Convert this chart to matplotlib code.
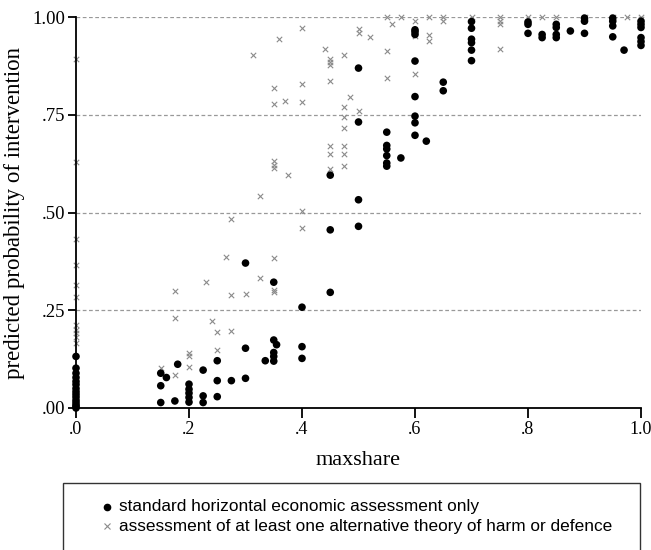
import numpy as np
import matplotlib
matplotlib.use("Agg")
import matplotlib.pyplot as plt
from matplotlib.lines import Line2D
from matplotlib.patches import Rectangle

# ---- data: standard horizontal economic assessment only (dots) ----
std_share = [0.0, 0.15, 0.16, 0.175, 0.18, 0.2, 0.225, 0.25, 0.275, 0.3, 0.335,
             0.35, 0.355, 0.4, 0.45, 0.5, 0.55, 0.575, 0.6, 0.62, 0.65, 0.7,
             0.8, 0.825, 0.85, 0.875, 0.9, 0.95, 0.97, 1.0]
std_prob = [
    [0.132, 0.102, 0.089, 0.078, 0.068, 0.06, 0.05, 0.042, 0.035, 0.028, 0.02, 0.014, 0.008, 0.004, 0.0],
    [0.089, 0.057, 0.014],
    [0.078],
    [0.018],
    [0.112],
    [0.061, 0.048, 0.038, 0.027, 0.015],
    [0.097, 0.031, 0.014],
    [0.121, 0.07, 0.029],
    [0.07],
    [0.371, 0.153, 0.076],
    [0.121],
    [0.322, 0.174, 0.142, 0.132, 0.12],
    [0.162],
    [0.258, 0.157, 0.127],
    [0.596, 0.456, 0.296],
    [0.87, 0.732, 0.533, 0.465],
    [0.706, 0.672, 0.663, 0.646, 0.627, 0.619],
    [0.64],
    [0.968, 0.963, 0.956, 0.888, 0.797, 0.747, 0.73, 0.698],
    [0.683],
    [0.834, 0.812],
    [0.989, 0.972, 0.944, 0.935, 0.916, 0.889],
    [0.988, 0.982, 0.959],
    [0.956, 0.948],
    [0.982, 0.974, 0.956, 0.948],
    [0.965],
    [0.998, 0.99, 0.959],
    [0.998, 0.99, 0.978, 0.95],
    [0.916],
    [0.99, 0.982, 0.974, 0.948, 0.938, 0.928],
]

# ---- data: at least one alternative theory of harm or defence (crosses) ----
alt_share = [0.0, 0.15, 0.175, 0.2, 0.23, 0.24, 0.25, 0.265, 0.275, 0.3, 0.3125,
             0.325, 0.35, 0.36, 0.37, 0.375, 0.4, 0.44, 0.45, 0.475, 0.485, 0.5,
             0.52, 0.55, 0.56, 0.575, 0.6, 0.625, 0.65, 0.7, 0.75, 0.8, 0.825,
             0.85, 0.9, 0.95, 0.975, 1.0]
alt_prob = [
    [0.894, 0.629, 0.433, 0.367, 0.314, 0.284, 0.213, 0.2, 0.191, 0.183, 0.166],
    [0.102],
    [0.3, 0.23, 0.085],
    [0.142, 0.133, 0.106],
    [0.322],
    [0.222],
    [0.194, 0.149],
    [0.386],
    [0.485, 0.288, 0.197],
    [0.292],
    [0.903],
    [0.542, 0.333],
    [0.82, 0.778, 0.632, 0.623, 0.615, 0.384, 0.303, 0.296],
    [0.945],
    [0.786],
    [0.597],
    [0.972, 0.829, 0.782, 0.505, 0.461],
    [0.918],
    [0.894, 0.886, 0.877, 0.838, 0.67, 0.649, 0.613],
    [0.903, 0.77, 0.745, 0.716, 0.67, 0.65, 0.619],
    [0.797],
    [0.969, 0.961, 0.759],
    [0.949],
    [1.0, 0.914, 0.845],
    [0.982],
    [1.0],
    [0.99, 0.952, 0.854],
    [1.0, 0.955, 0.939],
    [1.0, 0.99],
    [1.0],
    [1.0, 0.99, 0.982, 0.92],
    [1.0],
    [1.0],
    [1.0],
    [1.0],
    [1.0],
    [1.0],
    [1.0, 0.995],
]

x_ticks = [0.0, 0.2, 0.4, 0.6, 0.8, 1.0]
x_ticklabels = [".0", ".2", ".4", ".6", ".8", "1.0"]
y_ticks = [0.0, 0.25, 0.5, 0.75, 1.0]
y_ticklabels = [".00", ".25", ".50", ".75", "1.00"]
legend_labels = ["standard horizontal economic assessment only",
                 "assessment of at least one alternative theory of harm or defence"]


def flatten(shares, probs):
    xs, ys = [], []
    for s, ps in zip(shares, probs):
        for p in ps:
            xs.append(s)
            ys.append(p)
    return np.array(xs), np.array(ys)


sx, sy = flatten(std_share, std_prob)
ax_, ay_ = flatten(alt_share, alt_prob)

serif = ["Liberation Serif", "DejaVu Serif"]
W, H = 651, 550
fig = plt.figure(figsize=(W / 100, H / 100), dpi=100)
ax = fig.add_axes([76 / W, 1 - 408 / H, (641 - 76) / W, (408 - 17.3) / H])

ax.set_xlim(0, 1.0)
ax.set_ylim(0, 1.0)
for yv in y_ticks[1:]:
    ax.axhline(yv, color="#999999", linestyle=(0, (3, 2)), linewidth=0.9, zorder=0)

ax.scatter(ax_, ay_, marker="x", s=15, color="#8a8a8a", linewidths=0.8, zorder=2, clip_on=False)
ax.scatter(sx, sy, marker="o", s=30, color="black", edgecolors="none", zorder=3, clip_on=False)

for side in ["top", "right"]:
    ax.spines[side].set_visible(False)
for side in ["left", "bottom"]:
    ax.spines[side].set_linewidth(1.3)
    ax.spines[side].set_color("black")
    ax.spines[side].set_zorder(4)

ax.set_xticks(x_ticks)
ax.set_xticklabels(x_ticklabels, family=serif, fontsize=13)
ax.set_yticks(y_ticks)
ax.set_yticklabels(y_ticklabels, family=serif, fontsize=13.5)
ax.tick_params(axis="both", direction="out", length=7, width=1.3, pad=2)
ax.tick_params(axis="y", length=6)

ax.set_xlabel("maxshare", family=serif, fontsize=16, labelpad=10)
ax.set_ylabel("predicted probability of intervention", family=serif, fontsize=16.5, labelpad=5)

# legend box (runs off the bottom of the figure)
rect = Rectangle((63 / W, -10 / H), (640 - 63) / W, (H - 483 + 10) / H,
                 transform=fig.transFigure, fill=False, edgecolor="#333333", linewidth=1.0)
fig.add_artist(rect)
leg_font = ["Liberation Sans", "DejaVu Sans"]
fig.add_artist(Line2D([107 / W], [1 - 507 / H], marker="o", markersize=4.5, color="black",
                      linestyle="none", transform=fig.transFigure))
fig.add_artist(Line2D([107 / W], [1 - 526 / H], marker="x", markersize=4, color="#8a8a8a",
                      markeredgewidth=0.8, linestyle="none", transform=fig.transFigure))
fig.text(119 / W, 1 - 507 / H, legend_labels[0], family=leg_font, fontsize=12.4, va="center", ha="left")
fig.text(119 / W, 1 - 526 / H, legend_labels[1], family=leg_font, fontsize=12.4, va="center", ha="left")

fig.savefig("out.png", dpi=100)
